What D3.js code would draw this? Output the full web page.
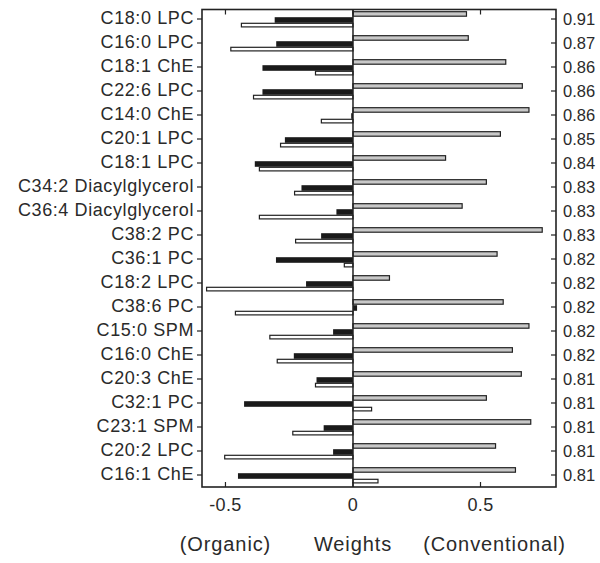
<!DOCTYPE html>
<html>
<head>
<meta charset="utf-8">
<script src="https://cdn.jsdelivr.net/npm/d3@7"></script>
<style>
  html, body { margin: 0; padding: 0; background: #fff; }
  svg { display: block; }
  text { font-family: "Liberation Sans", Arial, Helvetica, sans-serif; fill: #2a2a2a; }
</style>
</head>
<body>
<svg id="chart" width="600" height="563"></svg>
<script>
const categories = ["C18:0 LPC","C16:0 LPC","C18:1 ChE","C22:6 LPC","C14:0 ChE","C20:1 LPC","C18:1 LPC",
  "C34:2 Diacylglycerol","C36:4 Diacylglycerol","C38:2 PC","C36:1 PC","C18:2 LPC","C38:6 PC","C15:0 SPM",
  "C16:0 ChE","C20:3 ChE","C32:1 PC","C23:1 SPM","C20:2 LPC","C16:1 ChE"];
const grayValues  = [0.445,0.452,0.599,0.664,0.690,0.578,0.363,0.523,0.428,0.742,0.565,0.143,0.589,0.690,0.625,0.660,0.523,0.697,0.559,0.637];
const blackValues = [-0.307,-0.301,-0.355,-0.355,-0.007,-0.267,-0.385,-0.202,-0.065,-0.125,-0.302,-0.184,0.016,-0.078,-0.232,-0.143,-0.427,-0.115,-0.078,-0.451];
const whiteValues = [-0.4375,-0.479,-0.147,-0.39,-0.124,-0.284,-0.367,-0.229,-0.367,-0.225,-0.034,-0.574,-0.461,-0.326,-0.297,-0.147,0.073,-0.236,-0.503,0.098];
const rightLabels = ["0.91","0.87","0.86","0.86","0.86","0.85","0.84","0.83","0.83","0.83","0.82","0.82","0.82","0.82","0.82","0.81","0.81","0.81","0.81","0.81"];
const xTicks = [-0.5, 0, 0.5];
const xTickLabels = ["-0.5","0","0.5"];
const titleParts = ["(Organic)","Weights","(Conventional)"];

const svg = d3.select("#chart");
const L = 202, R = 556, T = 9.5, B = 487;
const x = d3.scaleLinear().domain([-0.592, 0.796]).range([L, R]);
const y = d3.scaleBand().domain(categories).range([7, 487]);
const c = d => y(d) + y.bandwidth() / 2;
const stroke = "#222";

const g = svg.append("g");

// bars
const idx = d3.range(categories.length);
g.selectAll("rect.gray").data(idx).join("rect")
  .attr("x", i => Math.min(x(0), x(grayValues[i])))
  .attr("width", i => Math.abs(x(grayValues[i]) - x(0)))
  .attr("y", i => c(categories[i]) - 7.3).attr("height", 4.5)
  .attr("fill", "#c8c8c8").attr("stroke", stroke).attr("stroke-width", 1.2);
g.selectAll("rect.black").data(idx).join("rect")
  .attr("x", i => Math.min(x(0), x(blackValues[i])))
  .attr("width", i => Math.abs(x(blackValues[i]) - x(0)))
  .attr("y", i => c(categories[i]) - 1.8).attr("height", 5.6)
  .attr("fill", "#1a1a1a");
g.selectAll("rect.white").data(idx).join("rect")
  .attr("x", i => Math.min(x(0), x(whiteValues[i])))
  .attr("width", i => Math.abs(x(whiteValues[i]) - x(0)))
  .attr("y", i => c(categories[i]) + 4.3).attr("height", 3.6)
  .attr("fill", "#fff").attr("stroke", stroke).attr("stroke-width", 1.2);

// zero line
g.append("line").attr("x1", x(0)).attr("x2", x(0)).attr("y1", T).attr("y2", B)
  .attr("stroke", stroke).attr("stroke-width", 1.5);

// frame
g.append("rect").attr("x", L).attr("y", T).attr("width", R - L).attr("height", B - T)
  .attr("fill", "none").attr("stroke", stroke).attr("stroke-width", 1.6);

// y ticks + labels
categories.forEach((d, i) => {
  g.append("line").attr("x1", L - 5).attr("x2", L).attr("y1", c(d)).attr("y2", c(d))
    .attr("stroke", stroke).attr("stroke-width", 1.2);
  g.append("line").attr("x1", R - 5).attr("x2", R).attr("y1", c(d)).attr("y2", c(d))
    .attr("stroke", stroke).attr("stroke-width", 1.2);
  g.append("text").attr("x", L - 8).attr("y", c(d)).attr("dy", "0.3em")
    .attr("text-anchor", "end").style("font-size", "18px").style("letter-spacing", "0.6px")
    .text(d);
  g.append("text").attr("x", R + 7).attr("y", c(d)).attr("dy", "0.36em")
    .attr("text-anchor", "start").style("font-size", "16.5px")
    .text(rightLabels[i]);
});

// x ticks top and bottom (inward)
xTicks.forEach((t, i) => {
  g.append("line").attr("x1", x(t)).attr("x2", x(t)).attr("y1", B).attr("y2", B - 5)
    .attr("stroke", stroke).attr("stroke-width", 1.2);
  g.append("line").attr("x1", x(t)).attr("x2", x(t)).attr("y1", T).attr("y2", T + 5)
    .attr("stroke", stroke).attr("stroke-width", 1.2);
  g.append("text").attr("x", x(t)).attr("y", 511).attr("text-anchor", "middle")
    .style("font-size", "18px").style("letter-spacing", "0.4px").text(xTickLabels[i]);
});

// title
const titleX = [x(-0.5), x(0), x(0.555)];
titleParts.forEach((s, i) => {
  g.append("text").attr("x", titleX[i]).attr("y", 551).attr("text-anchor", "middle")
    .style("font-size", "20px").style("letter-spacing", "0.9px").text(s);
});
</script>
</body>
</html>
